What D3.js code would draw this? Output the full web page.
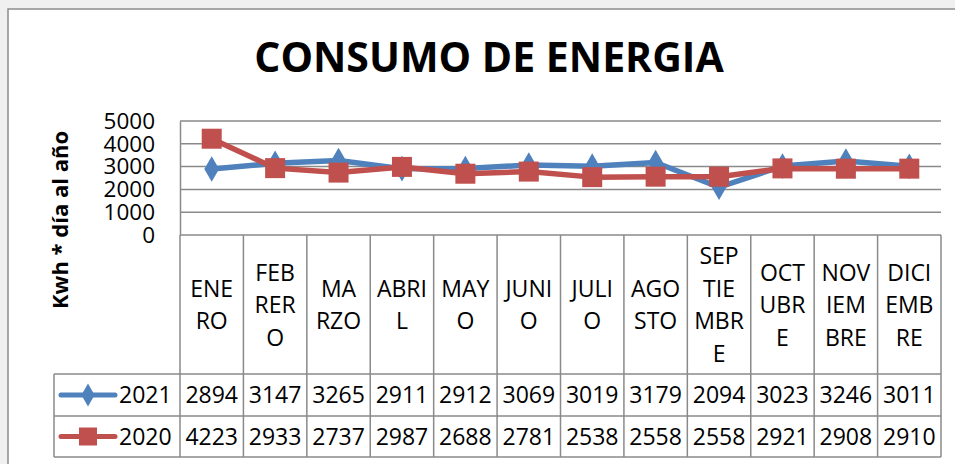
<!DOCTYPE html>
<html><head><meta charset="utf-8">
<script src="https://cdn.jsdelivr.net/npm/d3@7"></script>
<style>html,body{margin:0;padding:0;background:#f0f0f0;overflow:hidden}</style>
</head><body>
<svg id="c" width="955" height="464"></svg>
<script>
const months = ["ENERO","FEBRERO","MARZO","ABRIL","MAYO","JUNIO","JULIO","AGOSTO","SEPTIEMBRE","OCTUBRE","NOVIEMBRE","DICIEMBRE"];
const monthLabels = [["ENE","RO"],["FEB","RER","O"],["MA","RZO"],["ABRI","L"],["MAY","O"],["JUNI","O"],["JULI","O"],["AGO","STO"],["SEP","TIE","MBR","E"],["OCT","UBR","E"],["NOV","IEM","BRE"],["DICI","EMB","RE"]];
const values2021 = [2894,3147,3265,2911,2912,3069,3019,3179,2094,3023,3246,3011];
const values2020 = [4223,2933,2737,2987,2688,2781,2538,2558,2558,2921,2908,2910];
const yTicks = [0,1000,2000,3000,4000,5000];
const seriesNames = ["2021","2020"];
const colors = ["#4F81BD","#C0504D"];

const svg = d3.select("#c");
const font = "'Open Sans', sans-serif";
svg.append("rect").attr("x",8).attr("y",9).attr("width",960).attr("height",470)
  .attr("fill","#fff").attr("stroke","#8c8c8c").attr("stroke-width",1.5);

const L = 180, R = 941, T = 121, B = 235;
const x = d3.scaleBand().domain(months).range([L,R]);
const y = d3.scaleLinear().domain([0,5000]).range([B,T]);
const grid = "#8a8a8a";

// title
svg.append("text").attr("x",489).attr("y",72).attr("text-anchor","middle")
  .attr("font-family",font).attr("font-weight","bold").attr("font-size",41)
  .attr("fill","#000").text("CONSUMO DE ENERGIA");

// y axis title
svg.append("text").attr("transform","translate(68,220) rotate(-90)").attr("text-anchor","middle")
  .attr("font-family",font).attr("font-weight","bold").attr("font-size",22)
  .attr("fill","#000").text("Kwh * día al año");

// gridlines
svg.append("g").selectAll("line").data(yTicks.filter(d=>d>0)).join("line")
  .attr("x1",L).attr("x2",R).attr("y1",d=>y(d)).attr("y2",d=>y(d))
  .attr("stroke",grid).attr("stroke-width",1.5);

// y axis
const yAxis = d3.axisLeft(y).tickValues(yTicks).tickFormat(d3.format("d")).tickSize(0).tickPadding(25);
const ga = svg.append("g").attr("transform",`translate(${L},0)`).call(yAxis);
ga.select(".domain").attr("stroke",grid).attr("stroke-width",1.5);
ga.selectAll("text").attr("font-family",font).attr("font-size",22.5).attr("fill","#000");

// table
const rowTop = B, rowMid = 374, row1 = 416, row2 = 457, legL = 54;
const tg = svg.append("g").attr("stroke",grid).attr("stroke-width",1.5).attr("fill","none");
months.forEach(m=>{
  tg.append("line").attr("x1",x(m)).attr("x2",x(m)).attr("y1",rowTop).attr("y2",row2);
});
tg.append("line").attr("x1",R).attr("x2",R).attr("y1",rowTop).attr("y2",row2);
tg.append("line").attr("x1",L).attr("x2",R).attr("y1",rowTop).attr("y2",rowTop);
[rowMid,row1,row2].forEach(yy=>tg.append("line").attr("x1",legL).attr("x2",R).attr("y1",yy).attr("y2",yy));
tg.append("line").attr("x1",legL).attr("x2",legL).attr("y1",rowMid).attr("y2",row2);

// category labels
const lh = 32.5;
months.forEach((m,i)=>{
  const lines = monthLabels[i];
  const cy = 305;
  const t = svg.append("text").attr("text-anchor","middle").attr("font-family",font)
    .attr("font-size",23).attr("fill","#000");
  lines.forEach((s,j)=>{
    t.append("tspan").attr("x",x(m)+x.bandwidth()/2)
      .attr("y",cy + (j-(lines.length-1)/2)*lh).attr("dy","0.35em").text(s);
  });
});

// data rows
const allVals = [values2021, values2020];
const rowCenters = [(rowMid+row1)/2, (row1+row2)/2];
allVals.forEach((vals,k)=>{
  svg.append("g").selectAll("text").data(vals).join("text")
    .attr("x",(d,i)=>x(months[i])+x.bandwidth()/2).attr("y",rowCenters[k]).attr("dy","0.35em")
    .attr("text-anchor","middle").attr("font-family",font).attr("font-size",23).attr("fill","#000")
    .text(d=>d);
  const ly = rowCenters[k];
  svg.append("line").attr("x1",61).attr("x2",115).attr("y1",ly).attr("y2",ly)
    .attr("stroke",colors[k]).attr("stroke-width",5).attr("stroke-linecap","round");
  if(k===0){
    svg.append("path").attr("d",d3.symbol(d3.symbolDiamond,150)()).attr("transform",`translate(88,${ly})`).attr("fill",colors[k]);
  } else {
    svg.append("rect").attr("x",79).attr("y",ly-9).attr("width",18).attr("height",18).attr("fill",colors[k]);
  }
  svg.append("text").attr("x",119).attr("y",ly).attr("dy","0.35em").attr("font-family",font)
    .attr("font-size",23).attr("fill","#000").text(seriesNames[k]);
});

// lines
const line = d3.line().x((d,i)=>x(months[i])+x.bandwidth()/2).y(d=>y(d));
allVals.forEach((vals,k)=>{
  svg.append("path").datum(vals).attr("d",line).attr("fill","none")
    .attr("stroke",colors[k]).attr("stroke-width",5.5).attr("stroke-linejoin","round");
  if(k===0){
    svg.append("g").selectAll("path").data(vals).join("path")
      .attr("d",d3.symbol(d3.symbolDiamond,190)())
      .attr("transform",(d,i)=>`translate(${x(months[i])+x.bandwidth()/2},${y(d)})`)
      .attr("fill",colors[k]);
  } else {
    svg.append("g").selectAll("rect").data(vals).join("rect")
      .attr("x",(d,i)=>x(months[i])+x.bandwidth()/2-10).attr("y",d=>y(d)-10)
      .attr("width",20).attr("height",20).attr("fill",colors[k]);
  }
});
</script>
</body></html>
